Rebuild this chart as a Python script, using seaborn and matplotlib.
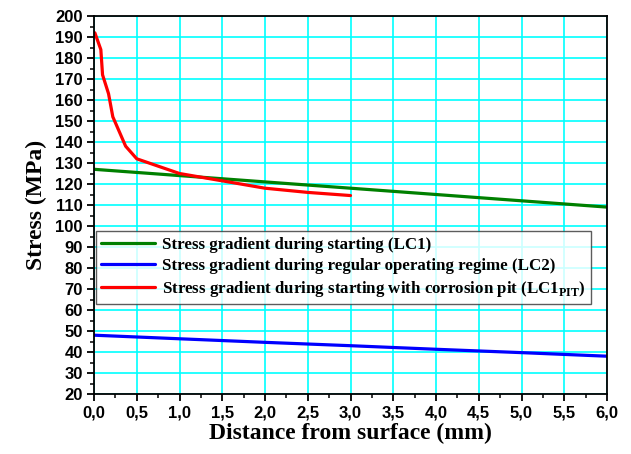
import pandas as pd
import matplotlib.pyplot as plt
import seaborn as sns
from matplotlib.ticker import MultipleLocator, FuncFormatter

sns.set_theme(style="ticks")
plt.rcParams['font.family'] = ['Liberation Serif', 'DejaVu Serif']
plt.rcParams['font.weight'] = 'bold'
plt.rcParams['text.color'] = 'black'
plt.rcParams['axes.labelcolor'] = 'black'
plt.rcParams['mathtext.fontset'] = 'custom'
plt.rcParams['mathtext.rm'] = 'Liberation Serif:bold'
plt.rcParams['mathtext.bf'] = 'Liberation Serif:bold'

# Data
x_lc1 = [0.0, 1.0, 2.0, 3.0, 4.0, 5.0, 6.0]
y_lc1 = [127, 124, 121, 118, 115, 112, 109]

x_lc2 = [0.0, 1.0, 2.0, 3.0, 4.0, 5.0, 6.0]
y_lc2 = [48, 46.3, 44.6, 43, 41.3, 39.7, 38]

x_pit = [0.01, 0.08, 0.10, 0.17, 0.22, 0.37, 0.5, 1.0, 1.5, 2.0, 2.5, 3.0]
y_pit = [192, 184, 172, 163, 152, 138, 132, 125, 121.5, 118, 116, 114.5]

labels = [
    'Stress gradient during starting (LC1)',
    'Stress gradient during regular operating regime (LC2)',
    r'Stress gradient during starting with corrosion pit (LC1$_{\mathbf{PIT}}$)',
]
colors = ['#008000', '#0000FF', '#FF0000']

fig = plt.figure(figsize=(6.31, 4.54), dpi=100)
ax = fig.add_axes([94 / 631, 1 - 394 / 454, 513 / 631, 378 / 454])

for xs, ys, lab, c in zip([x_lc1, x_lc2, x_pit], [y_lc1, y_lc2, y_pit], labels, colors):
    sns.lineplot(x=xs, y=ys, ax=ax, color=c, linewidth=2.3, label=lab)

ax.set_xlim(0, 6)
ax.set_ylim(20, 200)
ax.xaxis.set_major_locator(MultipleLocator(0.5))
ax.xaxis.set_minor_locator(MultipleLocator(0.25))
ax.yaxis.set_major_locator(MultipleLocator(10))
ax.yaxis.set_minor_locator(MultipleLocator(5))
ax.xaxis.set_major_formatter(FuncFormatter(lambda v, p: f'{v:.1f}'.replace('.', ',')))
ax.grid(True, which='major', color='#00FFFF', linewidth=1.2)
ax.set_axisbelow(True)

for s in ax.spines.values():
    s.set_color('black')
    s.set_linewidth(1.3)
ax.tick_params(which='major', direction='out', length=5, width=1.3, color='black', pad=3,
               labelsize=12, labelcolor='black')
ax.tick_params(which='minor', direction='out', length=3, width=1.1, color='black')

ax.set_xlabel('Distance from surface (mm)', fontsize=17, fontweight='bold', labelpad=2)
ax.set_ylabel('Stress (MPa)', fontsize=17, fontweight='bold', labelpad=6)

leg = ax.legend(loc='upper left', bbox_to_anchor=(0.004, 0.43), frameon=True, fancybox=False,
                prop={'weight': 'bold', 'size': 12.2}, handlelength=3.2, handletextpad=0.4,
                labelspacing=0.3, borderpad=0.3, borderaxespad=0)
leg.get_frame().set_edgecolor('#333333')
leg.get_frame().set_linewidth(1.0)
for h in leg.get_lines():
    h.set_linewidth(2.3)

fig.canvas.draw()
for lbl in ax.get_xticklabels() + ax.get_yticklabels():
    lbl.set_fontfamily(['Liberation Sans', 'DejaVu Sans'])
    lbl.set_fontweight('bold')
    lbl.set_fontsize(12)

fig.savefig('out.png', dpi=100)
